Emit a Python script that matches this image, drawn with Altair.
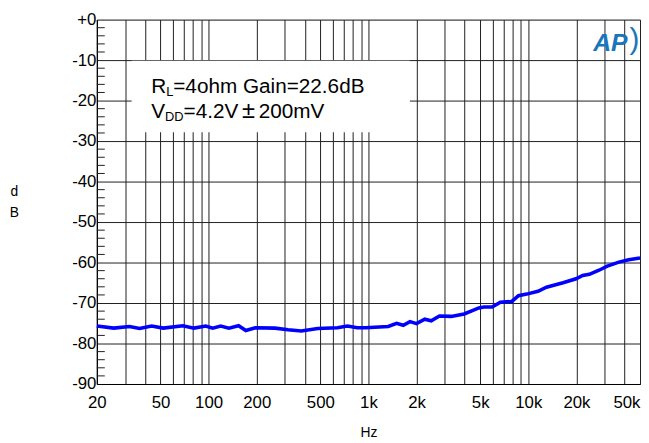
import altair as alt
import pandas as pd

# ---- data ----
freq = [20, 25.5, 32, 37, 44, 52, 69, 81, 96, 106, 119, 134, 154, 171, 196, 260,
        314, 380, 482, 640, 738, 851, 960, 1330, 1500, 1650, 1820, 2000, 2250,
        2470, 2780, 3290, 3970, 4910, 5280, 5940, 6690, 7890, 8680, 9770, 11500,
        13000, 16500, 19900, 21900, 24100, 27700, 31200, 36900, 42500, 50000]
db = [-75.7, -76.2, -75.8, -76.3, -75.7, -76.2, -75.6, -76.2, -75.7, -76.2,
      -75.7, -76.2, -75.6, -76.8, -76.1, -76.2, -76.6, -76.9, -76.3, -76.1,
      -75.7, -76.1, -76.1, -75.8, -75.0, -75.5, -74.6, -75.1, -74.0, -74.4,
      -73.2, -73.3, -72.7, -71.2, -71.0, -71.0, -69.8, -69.6, -68.2, -67.8,
      -67.1, -66.1, -65.0, -64.0, -63.2, -62.9, -61.9, -60.9, -59.9, -59.3, -58.9]

x_grid = [20, 30, 40, 50, 60, 70, 80, 90,
          100, 200, 300, 400, 500, 600, 700, 800, 900,
          1000, 2000, 3000, 4000, 5000, 6000, 7000, 8000, 9000,
          10000, 20000, 30000, 40000, 50000]
x_label_values = [20, 50, 100, 200, 500, 1000, 2000, 5000, 10000, 20000, 50000]
x_label_texts = ["20", "50", "100", "200", "500", "1k", "2k", "5k", "10k", "20k", "50k"]
y_major = [-90, -80, -70, -60, -50, -40, -30, -20, -10, 0]
y_minor = [v for v in range(-88, 0, 2) if v % 10 != 0]

FONT = "Liberation Sans"
GRID = "#1e1e1e"

xscale = alt.Scale(type="log", domain=[20, 50000], nice=False)
yscale = alt.Scale(domain=[-90, 0], nice=False)

# label expression built from the label arrays
x_expr = "".join(
    f"datum.value == {v} ? '{t}' : " for v, t in zip(x_label_values, x_label_texts)
) + "''"

xaxis = alt.Axis(
    values=x_grid, labelExpr=x_expr, grid=True, gridColor=GRID, gridWidth=1,
    gridOpacity=1, ticks=False, domainColor="black", domainWidth=1.2,
    labelFont=FONT, labelFontSize=17, labelColor="black", labelPadding=11,
    labelOverlap=False, labelFlush=False,
    labelAlign={"condition": {"test": "datum.value >= 50000", "value": "right"},
                "value": "center"},
    title="Hz", titleFont=FONT, titleFontSize=14, titleFontWeight="normal",
    titleColor="black", titlePadding=15,
)
yaxis = alt.Axis(
    values=y_major, labelExpr="datum.value == 0 ? '+0' : '' + datum.value",
    grid=True, gridColor=GRID, gridWidth=1, gridOpacity=1, ticks=False,
    domainColor="black", domainWidth=1.2, labelFont=FONT, labelFontSize=17,
    labelColor="black", labelPadding=1, labelBaseline="middle",
    title=["d", "B"], titleFont=FONT, titleFontSize=14, titleFontWeight="normal",
    titleColor="black", titleAngle=0, titleAlign="center", titleBaseline="top",
    titleX=-84, titleY=167, titleLineHeight=21,
)

def X(field="f"):
    return alt.X(f"{field}:Q", scale=xscale, axis=xaxis)

def Y(field="db"):
    return alt.Y(f"{field}:Q", scale=yscale, axis=yaxis)

df = pd.DataFrame({"f": freq, "db": db})

# white label box hiding the grid behind the annotation
box = alt.Chart(pd.DataFrame({"f": [33], "f2": [1816], "db": [-10.15], "db2": [-27.8]})) \
    .mark_rect(color="white").encode(x=X(), x2="f2:Q", y=Y(), y2="db2:Q")

# minor ticks on the left axis
minor = alt.Chart(pd.DataFrame({"db": y_minor})).mark_rule(color=GRID, strokeWidth=1) \
    .encode(y=Y(), x=alt.value(0), x2=alt.value(8))

curve = alt.Chart(df).mark_line(color="#0000ff", strokeWidth=3.6).encode(x=X(), y=Y())

def label(text, f, d, size, dx=0, dy=0, **kw):
    return alt.Chart(pd.DataFrame({"f": [f], "db": [d], "t": [text]})).mark_text(
        align="left", baseline="alphabetic", font=FONT, fontSize=size,
        dx=dx, dy=dy, color=kw.pop("color", "black"), **kw
    ).encode(x=X(), y=Y(), text="t:N")

ann_f = 43.7
line1 = -18.2
line2 = -24.2
texts = [
    label("R", ann_f, line1, 21),
    label("L", ann_f, line1, 13, dx=15.2, dy=3),
    label("=4ohm Gain=22.6dB", ann_f, line1, 21, dx=22.4),
    label("V", ann_f, line2, 21),
    label("DD", ann_f, line2, 13, dx=14, dy=3),
    label("=4.2V", ann_f, line2, 21, dx=32.8),
    label("\u00b1", ann_f, line2, 24, dx=92),
    label("200mV", ann_f, line2, 21, dx=109),
    label("AP", 25500, -7.8, 25, color="#1b75bc", fontStyle="italic", fontWeight="bold"),
    label(")", 43000, -7.2, 30, color="#1b75bc"),
]

chart = alt.layer(box, minor, curve, *texts).properties(
    width=550, height=369,
    autosize=alt.AutoSizeParams(type="none"),
    padding={"left": 90, "top": 9, "right": 1, "bottom": 57},
).configure_view(stroke=None).configure(background="white")

chart.save("out.html", embed_options={"renderer": "svg", "actions": False})
